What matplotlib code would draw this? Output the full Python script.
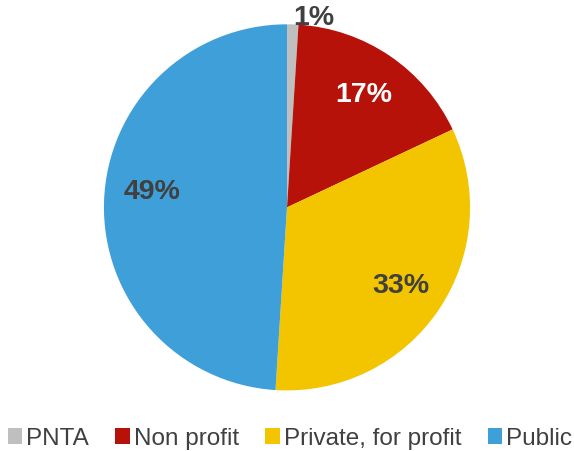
import numpy as np
import matplotlib.pyplot as plt

plt.rcParams['font.family'] = ['Liberation Sans', 'DejaVu Sans']

# Data
categories = ["PNTA", "Non profit", "Private, for profit", "Public"]
shares = [1, 17, 33, 49]
colors = ["#BFBFBF", "#B7120A", "#F2C500", "#3FA0D9"]
label_colors = ["#404040", "white", "#404040", "#404040"]

fig = plt.figure(figsize=(5.74, 4.52), dpi=100)
ax = fig.add_axes([0.181, 0.134, 0.638, 0.810])

wedges, texts, autotexts = ax.pie(
    shares, colors=colors, startangle=90, counterclock=False,
    autopct="%d%%", pctdistance=0.75, radius=1.0,
    textprops=dict(fontsize=20.5, fontweight="bold"),
)
for t, c in zip(autotexts, label_colors):
    t.set_color(c)

# the tiny slice gets its label outside the pie
w = wedges[0]
mid = np.deg2rad((w.theta1 + w.theta2) / 2)
autotexts[0].set_position((np.cos(mid) * 1.04, np.sin(mid) * 1.04))
autotexts[0].set_ha("left")

# Public label sits a little above the slice middle in the original
w = wedges[3]
mid = np.deg2rad((w.theta1 + w.theta2) / 2 - 5)
autotexts[3].set_position((np.cos(mid) * 0.74, np.sin(mid) * 0.74))

ax.set_xlim(-1, 1)
ax.set_ylim(-1, 1)
ax.set_aspect("equal")

fig.legend(wedges, categories, loc="lower center", bbox_to_anchor=(0.505, -0.045),
           ncol=4, frameon=False, fontsize=17.5, handlelength=0.6, handleheight=0.6,
           handletextpad=0.15, columnspacing=1.1, labelcolor="#404040")

fig.savefig("out.png", dpi=100)
